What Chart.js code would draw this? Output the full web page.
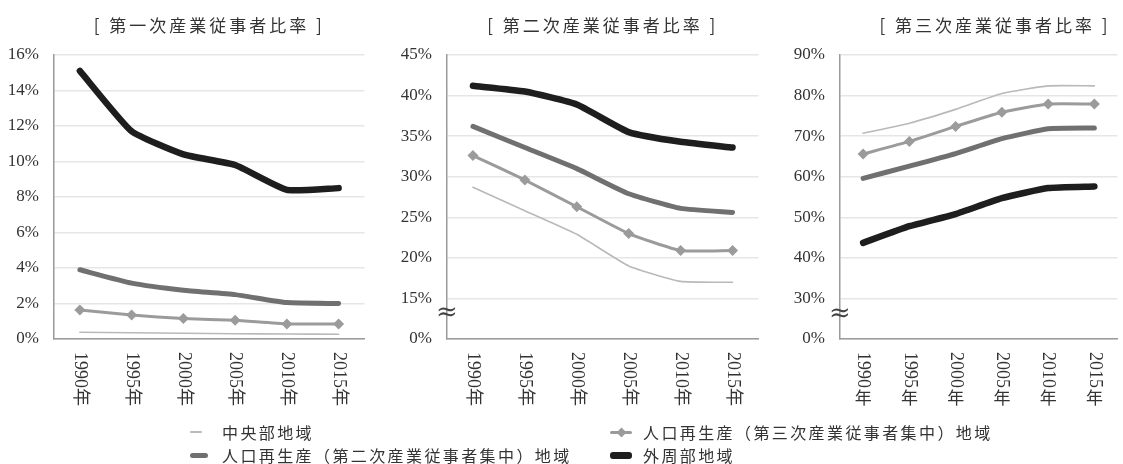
<!DOCTYPE html>
<html lang="ja">
<head>
<meta charset="utf-8">
<title>産業別従事者比率の推移</title>
<script src="https://cdn.jsdelivr.net/npm/chart.js@4.4.1/dist/chart.umd.min.js"></script>
<style>
  html, body { margin: 0; padding: 0; background: #fff; width: 1123px; height: 464px; overflow: hidden; }
  .panel { position: absolute; top: 0; height: 420px; }
  #legend { position: absolute; left: 0; top: 0; width: 1123px; height: 464px; pointer-events: none;
            font-family: "Noto Sans CJK JP", sans-serif; font-size: 16px; letter-spacing: 2.4px; color: #333; }
  .sym { position: absolute; border-radius: 3px; }
  .dia { position: absolute; width: 7px; height: 7px; transform: rotate(45deg); }
  .txt { position: absolute; line-height: 20px; height: 20px; white-space: nowrap; }
</style>
</head>
<body>
<div class="panel" style="left:0;width:370px"><canvas id="primary"></canvas></div>
<div class="panel" style="left:380px;width:384px"><canvas id="secondary"></canvas></div>
<div class="panel" style="left:770px;width:353px"><canvas id="tertiary"></canvas></div>
<div id="legend"></div>

<script>
// ---- data ----
const years = ['1990年', '1995年', '2000年', '2005年', '2010年', '2015年'];
const seriesNames = [
  '中央部地域',
  '人口再生産（第三次産業従事者集中）地域',
  '人口再生産（第二次産業従事者集中）地域',
  '外周部地域'
];
const panelTitles = ['[ 第一次産業従事者比率 ]', '[ 第二次産業従事者比率 ]', '[ 第三次産業従事者比率 ]'];

// 第一次産業従事者比率 (%)
const primaryCentral   = [0.38, 0.35, 0.32, 0.30, 0.28, 0.27];
const primaryTertiary  = [1.63, 1.35, 1.15, 1.05, 0.85, 0.85];
const primarySecondary = [3.9, 3.15, 2.75, 2.5, 2.05, 2.0];
const primaryOuter     = [15.1, 11.7, 10.4, 9.8, 8.4, 8.5];

// 第二次産業従事者比率 (%)
const secondaryCentral   = [28.7, 25.8, 22.9, 19.0, 17.1, 17.0];
const secondaryTertiary  = [32.6, 29.6, 26.3, 23.0, 20.9, 20.9];
const secondarySecondary = [36.2, 33.6, 31.0, 27.9, 26.1, 25.6];
const secondaryOuter     = [41.2, 40.5, 38.9, 35.5, 34.3, 33.6];

// 第三次産業従事者比率 (%)
const tertiaryCentral   = [70.7, 73.2, 76.6, 80.5, 82.4, 82.4];
const tertiaryTertiary  = [65.6, 68.7, 72.4, 75.9, 77.9, 77.9];
const tertiarySecondary = [59.6, 62.6, 65.7, 69.4, 71.8, 72.0];
const tertiaryOuter     = [43.7, 47.8, 50.8, 54.7, 57.2, 57.6];

// ---- styles ----
const fontSerif = '"Liberation Serif", "Noto Sans CJK JP", serif';
const fontJP = '"Noto Sans CJK JP", sans-serif';
const lineStyles = [
  { color: '#b9b9b9', width: 1.6, marker: false },
  { color: '#9b9b9b', width: 3, marker: true },
  { color: '#707070', width: 5, marker: false },
  { color: '#1e1e1e', width: 6.5, marker: false }
];

// Title, rotated year labels and the axis-break mark
const decor = {
  id: 'decor',
  afterDraw(chart, args, opts) {
    const { ctx, chartArea } = chart;
    const xs = chart.scales.x, ys = chart.scales.y;
    ctx.save();
    ctx.fillStyle = '#333';

    // panel title
    ctx.font = '17px ' + fontJP;
    ctx.letterSpacing = '3px';
    ctx.textAlign = 'center';
    ctx.textBaseline = 'middle';
    const tx = opts.titleX != null ? opts.titleX : (chartArea.left + chartArea.right) / 2;
    ctx.fillText(opts.title, tx, 26);
    ctx.letterSpacing = '0px';

    // year labels, reading downward
    ctx.font = '18px ' + fontSerif;
    const y0 = chartArea.bottom + 13;
    chart.data.labels.forEach((label, i) => {
      const x = xs.getPixelForTick(i);
      if (opts.uprightSuffix) {
        const digits = label.slice(0, -1), suffix = label.slice(-1);
        ctx.save();
        ctx.translate(x, y0);
        ctx.rotate(Math.PI / 2);
        ctx.textAlign = 'left';
        ctx.textBaseline = 'middle';
        ctx.fillText(digits, 0, 0);
        const w = ctx.measureText(digits).width;
        ctx.restore();
        ctx.textAlign = 'center';
        ctx.textBaseline = 'top';
        ctx.font = '17px ' + fontJP;
        ctx.fillText(suffix, x, y0 + w + 1);
        ctx.font = '18px ' + fontSerif;
      } else {
        ctx.save();
        ctx.translate(x, y0);
        ctx.rotate(Math.PI / 2);
        ctx.textAlign = 'left';
        ctx.textBaseline = 'middle';
        ctx.fillText(label, 0, 0);
        ctx.restore();
      }
    });

    // axis break
    if (opts.breakAt != null) {
      const by = ys.getPixelForValue(opts.breakAt);
      ctx.font = '26px "DejaVu Serif", serif';
      ctx.fillStyle = '#444';
      ctx.textAlign = 'center';
      ctx.textBaseline = 'middle';
      ctx.fillText('\u2248', chartArea.left, by);
    }
    ctx.restore();
  }
};

function makePanel(id, cfg) {
  const datasets = cfg.series.map((values, i) => {
    const s = lineStyles[i];
    return {
      label: seriesNames[i],
      data: values,
      borderColor: s.color,
      backgroundColor: s.color,
      borderWidth: s.width,
      pointRadius: s.marker ? 5.5 : 0,
      pointStyle: 'rectRot',
      pointBorderWidth: 0,
      tension: 0.15,
      borderCapStyle: 'round',
      borderJoinStyle: 'round'
    };
  });
  return new Chart(document.getElementById(id), {
    type: 'line',
    data: { labels: years, datasets },
    options: {
      responsive: true,
      maintainAspectRatio: false,
      animation: false,
      layout: { padding: { top: 55, right: cfg.padRight, left: 0, bottom: 0 } },
      plugins: {
        legend: { display: false },
        tooltip: { enabled: false },
        decor: { title: cfg.title, titleX: cfg.titleX, breakAt: cfg.breakAt, uprightSuffix: cfg.uprightSuffix }
      },
      scales: {
        x: {
          offset: true,
          grid: { display: false },
          border: { color: '#9a9a9a', width: 1.5 },
          ticks: { display: false },
          afterFit(scale) { scale.height = 81; }
        },
        y: {
          min: cfg.min,
          max: cfg.max,
          ticks: {
            stepSize: cfg.step,
            padding: 15,
            color: '#333',
            font: { family: fontSerif, size: 17 },
            callback: v => (v === cfg.zeroAt ? '0%' : v + '%')
          },
          grid: { color: '#e6e6e6', lineWidth: 1.5, drawTicks: false },
          border: { color: '#9a9a9a', width: 1.5 },
          afterFit(scale) { scale.width = cfg.axisWidth; }
        }
      }
    },
    plugins: [decor]
  });
}

makePanel('primary', {
  title: panelTitles[0],
  series: [primaryCentral, primaryTertiary, primarySecondary, primaryOuter],
  min: 0, max: 16, step: 2, zeroAt: 0,
  axisWidth: 54, padRight: 4
});
makePanel('secondary', {
  title: panelTitles[1],
  series: [secondaryCentral, secondaryTertiary, secondarySecondary, secondaryOuter],
  min: 10, max: 45, step: 5, zeroAt: 10, breakAt: 13.2,
  axisWidth: 67, padRight: 4
});
makePanel('tertiary', {
  title: panelTitles[2],
  series: [tertiaryCentral, tertiaryTertiary, tertiarySecondary, tertiaryOuter],
  min: 20, max: 90, step: 10, zeroAt: 20, breakAt: 26,
  axisWidth: 70, padRight: 1, titleX: 225, uprightSuffix: true
});

// ---- shared legend ----
const legendSlots = [
  { symLeft: 190, symWidth: 12, textLeft: 222, row: 432 },
  { symLeft: 610, symWidth: 22, textLeft: 643, row: 432 },
  { symLeft: 190, symWidth: 18, textLeft: 222, row: 455 },
  { symLeft: 610, symWidth: 22, textLeft: 643, row: 455 }
];
const legend = document.getElementById('legend');
seriesNames.forEach((name, i) => {
  const slot = legendSlots[i], s = lineStyles[i];
  const h = Math.max(2, Math.round(s.width));
  const sym = document.createElement('span');
  sym.className = 'sym';
  sym.style.cssText = `left:${slot.symLeft}px;top:${slot.row - h / 2}px;width:${slot.symWidth}px;height:${h}px;background:${s.color};`;
  legend.appendChild(sym);
  if (s.marker) {
    const d = document.createElement('span');
    d.className = 'dia';
    d.style.cssText = `left:${slot.symLeft + slot.symWidth / 2 - 3.5}px;top:${slot.row - 3.5}px;background:${s.color};`;
    legend.appendChild(d);
  }
  const t = document.createElement('span');
  t.className = 'txt';
  t.textContent = name;
  t.style.cssText = `left:${slot.textLeft}px;top:${slot.row - 10}px;`;
  legend.appendChild(t);
});
</script>
</body>
</html>
